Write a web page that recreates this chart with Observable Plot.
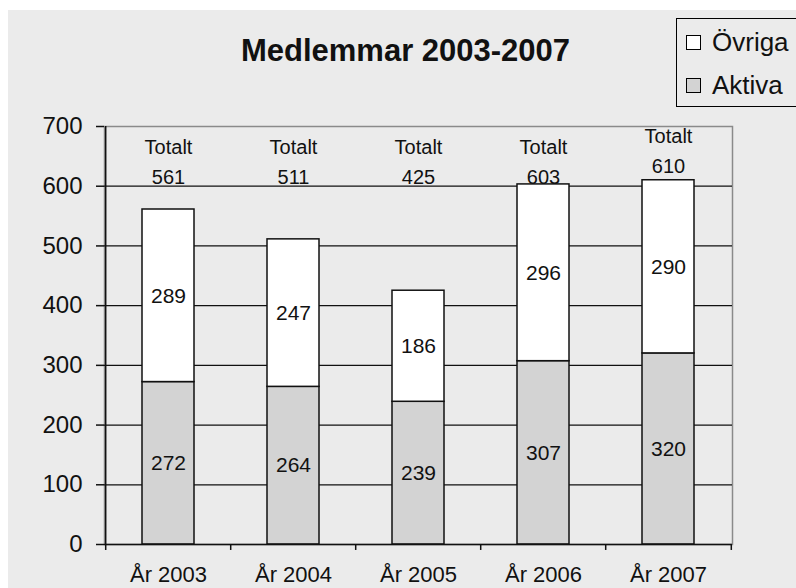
<!DOCTYPE html>
<html>
<head>
<meta charset="utf-8">
<script src="https://cdn.jsdelivr.net/npm/d3@7"></script>
<script src="https://cdn.jsdelivr.net/npm/@observablehq/plot@0.6"></script>
<style>
  body { margin: 0; background: #fff; }
  #wrap { position: relative; width: 796px; height: 588px; overflow: hidden; background: #fff; font-family: "Liberation Sans", Arial, sans-serif; }
  #bg { position: absolute; left: 8px; top: 10px; right: 0; bottom: 0; background: #ebebeb; }
  #title { position: absolute; left: 0; width: 811px; top: 33px; text-align: center; font-weight: bold; font-size: 31px; line-height: 36px; color: #111; }
  #chart { position: absolute; left: 0; top: 0; }
  #legend { position: absolute; left: 676px; top: 18px; width: 140px; height: 89px; border: 1.5px solid #000; box-sizing: border-box; }
  .item { position: absolute; left: 9px; font-size: 26px; line-height: 28px; color: #111; }
  .sw { display: inline-block; width: 15px; height: 15px; border: 1px solid #000; box-sizing: border-box; margin-right: 11px; vertical-align: 1px; }
</style>
</head>
<body>
<div id="wrap">
  <div id="bg"></div>
  <div id="chart"></div>
  <div id="title">Medlemmar 2003-2007</div>
  <div id="legend"></div>
</div>
<script>
const years = ["År 2003", "År 2004", "År 2005", "År 2006", "År 2007"];
const aktiva = [272, 264, 239, 307, 320];
const ovriga = [289, 247, 186, 296, 290];
const seriesNames = ["Aktiva", "Övriga"];
const seriesColors = ["#d3d3d3", "#ffffff"];
const yTicks = [0, 100, 200, 300, 400, 500, 600, 700];
const totalLabel = "Totalt";

const data = years.flatMap((year, i) => [
  {year, series: "Aktiva", value: aktiva[i]},
  {year, series: "Övriga", value: ovriga[i]}
]);
const totals = years.map((year, i) => ({year, total: aktiva[i] + ovriga[i]}));

const W = 796, H = 588, mL = 104, mR = 64, mT = 126, mB = 44;
const step = (W - mL - mR) / years.length;

const chart = Plot.plot({
  width: W, height: H,
  marginLeft: mL, marginRight: mR, marginTop: mT, marginBottom: mB,
  style: {background: "transparent", fontFamily: "'Liberation Sans', Arial, sans-serif", color: "#111"},
  x: {domain: years, paddingInner: 0.585, paddingOuter: 0.2925},
  y: {domain: [0, 700]},
  color: {domain: seriesNames, range: seriesColors},
  marks: [
    Plot.frame({stroke: "#8a8a8a", strokeWidth: 1.5}),
    Plot.ruleY(yTicks.filter(t => t > 0 && t < 700), {stroke: "#111", strokeWidth: 1.2}),
    Plot.barY(data, {x: "year", y: "value", fill: "series", stroke: "#111", strokeWidth: 1.5}),
    Plot.text(data, Plot.stackY({x: "year", y: "value", z: "series", text: d => String(d.value), fontSize: 21, fill: "#111"})),
    Plot.text(totals, {
      x: "year",
      y: d => d.year === years[4] ? 664 : 645,
      text: d => totalLabel + "\n" + d.total,
      fontSize: 20, lineHeight: 1.5, fill: "#111"
    }),
    Plot.ruleY([0], {stroke: "#111", strokeWidth: 1.5}),
    Plot.ruleX([years[0]], {dx: -step / 2, y1: -10, y2: 700, stroke: "#111", strokeWidth: 1.5}),
    Plot.ruleX(years.slice(1), {dx: -step / 2, y1: -10, y2: 0, stroke: "#111", strokeWidth: 1.5}),
    Plot.ruleX([years[years.length - 1]], {dx: step / 2, y1: -10, y2: 0, stroke: "#111", strokeWidth: 1.5}),
    Plot.axisY({ticks: yTicks, tickSize: 8, tickPadding: 14, fontSize: 24, label: null, stroke: "#111", strokeWidth: 1.5}),
    Plot.axisX({tickSize: 0, tickPadding: 22, fontSize: 22, label: null})
  ]
});
document.getElementById("chart").appendChild(chart);

const legend = document.getElementById("legend");
[["Övriga", 1], ["Aktiva", 0]].forEach(([name, idx], k) => {
  const div = document.createElement("div");
  div.className = "item";
  div.style.top = (k === 0 ? 9 : 52) + "px";
  const sw = document.createElement("span");
  sw.className = "sw";
  sw.style.background = seriesColors[idx];
  div.appendChild(sw);
  div.appendChild(document.createTextNode(name));
  legend.appendChild(div);
});
</script>
</body>
</html>
